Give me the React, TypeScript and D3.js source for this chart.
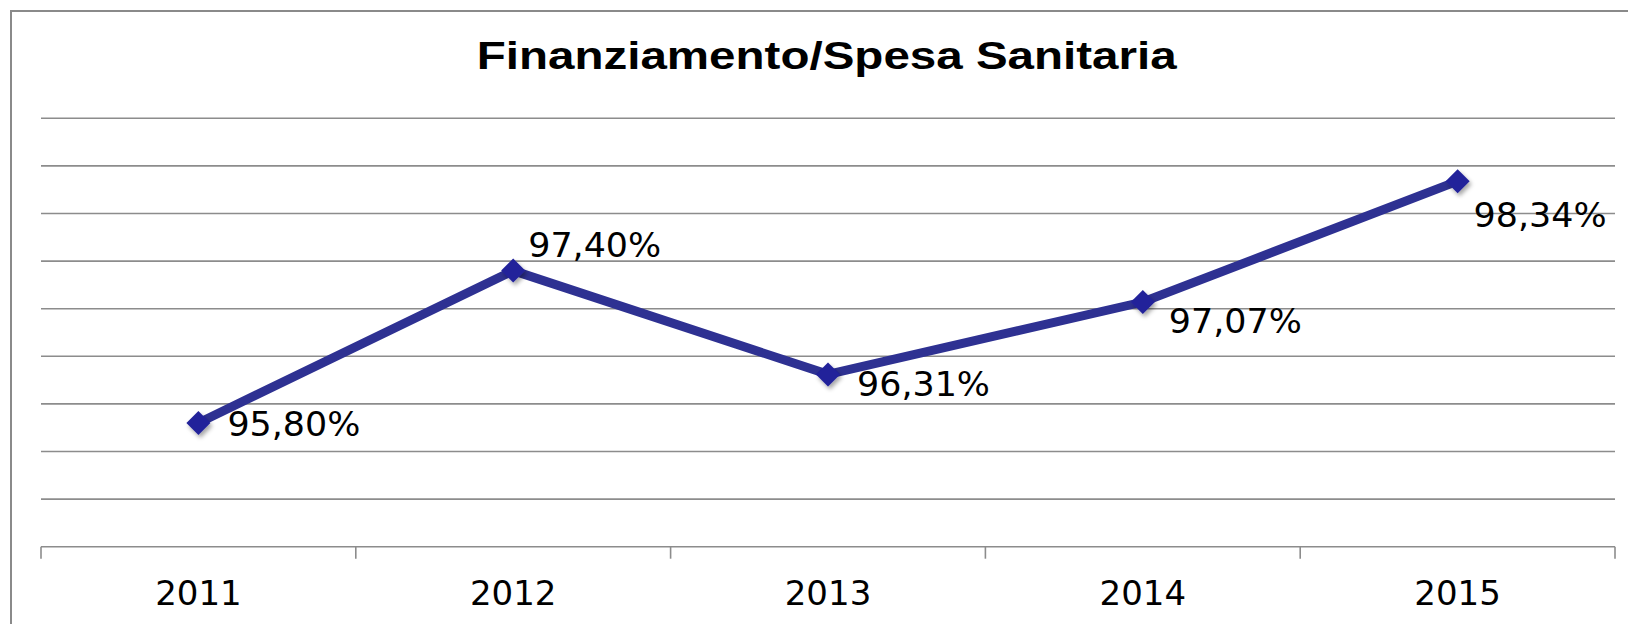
import React from "react";
import * as d3 from "d3";

const title = "Finanziamento/Spesa Sanitaria";
const years = ["2011", "2012", "2013", "2014", "2015"];
const values = [95.8, 97.4, 96.31, 97.07, 98.34];
const valueLabels = ["95,80%", "97,40%", "96,31%", "97,07%", "98,34%"];
// label offsets relative to the point (text start x, baseline y)
const labelOffsets: [number, number][] = [
  [29, 13],
  [15, -14],
  [29, 22],
  [26, 31],
  [16, 46],
];
const yMin = 94.5;
const yMax = 99.0;
const yStep = 0.5;

const W = 1628;
const H = 624;
const plot = { left: 41, right: 1615, top: 118.3, bottom: 546.7 };

export default function App() {
  const x = d3
    .scaleBand<string>()
    .domain(years)
    .range([plot.left, plot.right])
    .padding(0);
  const y = d3.scaleLinear().domain([yMin, yMax]).range([plot.bottom, plot.top]);
  const gridVals = d3.range(yMin + yStep, yMax + 1e-6, yStep);
  const cx = (i: number) => (x(years[i]) as number) + x.bandwidth() / 2;
  const line = d3
    .line<number>()
    .x((_, i) => cx(i))
    .y((d) => y(d));
  const tickXs = years.map((yr) => x(yr) as number).concat([plot.right]);
  const grid = "#8c8c8c";

  return (
    <svg
      width={W}
      height={H}
      style={{ position: "absolute", left: 0, top: 0, background: "#fff" }}
    >
      <defs>
        <filter id="shadow" x="-50%" y="-50%" width="200%" height="200%">
          <feDropShadow dx="2" dy="3" stdDeviation="2" floodColor="#000" floodOpacity="0.35" />
        </filter>
      </defs>
      <rect x={0} y={0} width={W} height={H} fill="#fff" />
      {/* frame */}
      <path d={`M11,${H + 5} L11,11 L${W + 5},11`} fill="none" stroke="#8a8a8a" strokeWidth={2} />
      <text
        x={476.7}
        y={69.3}
        textLength={700}
        lengthAdjust="spacingAndGlyphs"
        fontFamily="'Liberation Sans', Arial, Helvetica, sans-serif"
        fontWeight="bold"
        fontSize={39}
        fill="#000"
      >
        {title}
      </text>
      {gridVals.map((v) => (
        <line
          key={v}
          x1={plot.left}
          x2={plot.right}
          y1={y(v)}
          y2={y(v)}
          stroke={grid}
          strokeWidth={1.6}
        />
      ))}
      {/* x axis */}
      <line x1={plot.left} x2={plot.right} y1={y(yMin)} y2={y(yMin)} stroke={grid} strokeWidth={1.6} />
      {tickXs.map((tx, i) => (
        <line key={i} x1={tx} x2={tx} y1={y(yMin)} y2={y(yMin) + 12} stroke={grid} strokeWidth={1.6} />
      ))}
      {years.map((yr, i) => (
        <text
          key={yr}
          x={cx(i)}
          y={605}
          textAnchor="middle"
          fontFamily="'DejaVu Sans', Verdana, sans-serif"
          fontSize={34}
          fill="#000"
        >
          {yr}
        </text>
      ))}
      <path
        d={line(values) || ""}
        fill="none"
        stroke="#2e3192"
        strokeWidth={9}
        strokeLinejoin="miter"
      />
      {values.map((v, i) => {
        const px = cx(i);
        const py = y(v);
        const s = 12;
        return (
          <path
            key={i}
            d={`M${px},${py - s} L${px + s},${py} L${px},${py + s} L${px - s},${py} Z`}
            fill="#22229a"
            filter="url(#shadow)"
          />
        );
      })}
      {values.map((v, i) => (
        <text
          key={"l" + i}
          x={cx(i) + labelOffsets[i][0]}
          y={y(v) + labelOffsets[i][1]}
          textLength={133}
          lengthAdjust="spacingAndGlyphs"
          fontFamily="'DejaVu Sans', Verdana, sans-serif"
          fontSize={33}
          fill="#000"
        >
          {valueLabels[i]}
        </text>
      ))}
    </svg>
  );
}
